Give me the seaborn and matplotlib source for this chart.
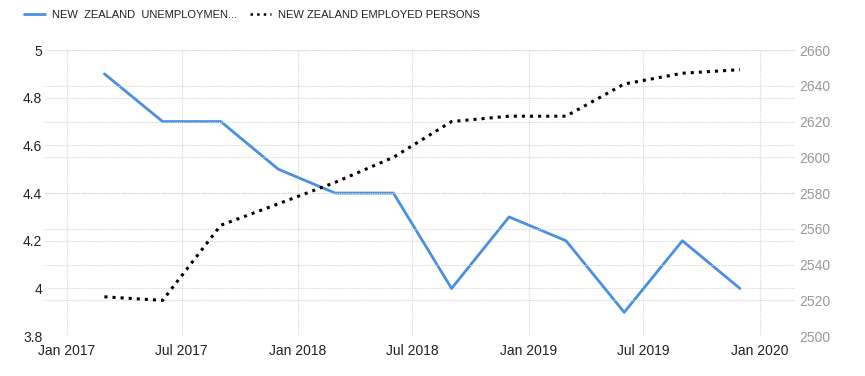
import pandas as pd
import numpy as np
import seaborn as sns
import matplotlib
matplotlib.use('Agg')
import matplotlib.pyplot as plt

sns.set_style('white')
plt.rcParams['font.family'] = ['Liberation Sans', 'DejaVu Sans']

# 数据（季度）
dates = ['2017-03-01', '2017-06-01', '2017-09-01', '2017-12-01',
         '2018-03-01', '2018-06-01', '2018-09-01', '2018-12-01',
         '2019-03-01', '2019-06-01', '2019-09-01', '2019-12-01']
unemployment = [4.9, 4.7, 4.7, 4.5, 4.4, 4.4, 4.0, 4.3, 4.2, 3.9, 4.2, 4.0]
employed = [2522, 2520, 2562, 2574, 2586, 2600, 2620, 2623, 2623, 2641, 2647, 2649]

left_ticks = [3.8, 4, 4.2, 4.4, 4.6, 4.8, 5]
left_labels = ['3.8', '4', '4.2', '4.4', '4.6', '4.8', '5']
right_ticks = [2500, 2520, 2540, 2560, 2580, 2600, 2620, 2640, 2660]
x_ticks = ['2017-01-01', '2017-07-01', '2018-01-01', '2018-07-01',
           '2019-01-01', '2019-07-01', '2020-01-01']
x_labels = ['Jan 2017', 'Jul 2017', 'Jan 2018', 'Jul 2018',
            'Jan 2019', 'Jul 2019', 'Jan 2020']

df = pd.DataFrame({'date': pd.to_datetime(dates),
                   'unemployment': unemployment,
                   'employed': employed})

fig = plt.figure(figsize=(8.65, 3.76), dpi=100)
ax = fig.add_axes([0.052, 0.106, 0.867, 0.761])
ax2 = ax.twinx()

grid_kw = dict(color='#d6d6d6', linestyle=(0, (1, 1)), linewidth=0.8)

sns.lineplot(data=df, x='date', y='unemployment', ax=ax, color='#4a90e2',
             linewidth=2.0, label='NEW  ZEALAND  UNEMPLOYMEN...', legend=False)
sns.lineplot(data=df, x='date', y='employed', ax=ax2, color='black',
             linewidth=2.2, linestyle=':', label='NEW ZEALAND EMPLOYED PERSONS',
             legend=False)

ax.set_xlim(pd.Timestamp('2016-11-27'), pd.Timestamp('2020-02-26'))
ax.set_ylim(3.8, 5.0)
ax2.set_ylim(2500, 2660)

ax.set_yticks(left_ticks)
ax.set_yticklabels(left_labels)
ax2.set_yticks(right_ticks)
ax.set_xticks(pd.to_datetime(x_ticks))
ax.set_xticklabels(x_labels)

ax.set_xlabel('')
ax.set_ylabel('')
ax2.set_ylabel('')

ax.grid(True, axis='both', **grid_kw)
ax2.grid(True, axis='y', **grid_kw)
ax.set_axisbelow(True)
ax2.set_axisbelow(True)

for a in (ax, ax2):
    for s in a.spines.values():
        s.set_visible(False)

ax.tick_params(axis='y', length=0, pad=2, labelsize=10, labelcolor='#222222')
ax.tick_params(axis='x', length=0, pad=6, labelsize=10, labelcolor='#222222')
ax2.tick_params(axis='y', length=0, pad=3, labelsize=10, labelcolor='#999999')

# 图例
h1, l1 = ax.get_legend_handles_labels()
h2, l2 = ax2.get_legend_handles_labels()
leg = fig.legend(h1 + h2, l1 + l2, loc='upper left', bbox_to_anchor=(0.016, 1.0),
                 ncol=2, frameon=False, fontsize=8, handlelength=1.9,
                 columnspacing=1.2, handletextpad=0.6)
for t in leg.get_texts():
    t.set_color('#222222')
leg.get_lines()[1].set_linewidth(1.8)

plt.savefig('out.png', dpi=100)
plt.close()
